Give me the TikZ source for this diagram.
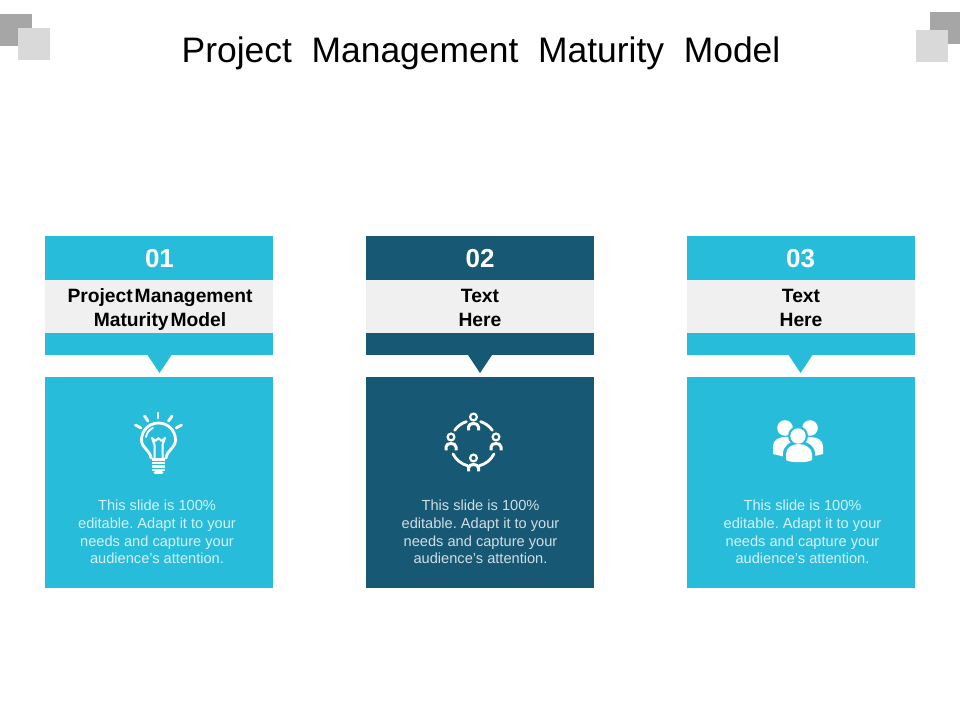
\documentclass[tikz,border=0pt]{standalone}
\usepackage{fontspec}
\setmainfont{Liberation Sans}
\usepackage{xcolor}
\definecolor{cardcyan}{HTML}{27BCDA}
\definecolor{carddark}{HTML}{175874}
\definecolor{labelgrey}{HTML}{F0F0F0}
\definecolor{cornerdark}{HTML}{A6A6A6}
\definecolor{cornerlight}{HTML}{D9D9D9}
\newcommand{\tightwords}{\spaceskip 0.1em\relax}
\tikzset{
    numtext/.style={inner sep=0pt,text=white,font=\fontsize{18.5}{22}\selectfont\bfseries},
    labelbox/.style={fill=labelgrey,minimum width=5.7cm,minimum height=1.325cm,inner sep=0pt},
    labeltext/.style={inner sep=0pt,align=center,font=\fontsize{13.7}{16.4}\selectfont\bfseries},
    bodytext/.style={text=white,text opacity=0.8,align=center,inner sep=0pt,font=\fontsize{10.4}{12.5}\selectfont\frenchspacing},
    iconline/.style={white,line width=0.07cm,line cap=round},
    person/.pic={
        \draw[white,line width=0.055cm] (0,0) circle (3.4);
        \draw[white,line width=0.075cm,line join=round] (-5,13.5) -- (-5,10) .. controls (-5,7.5) and (-2.5,6.5) .. (0,6.5) .. controls (2.5,6.5) and (5,7.5) .. (5,10) -- (5,13.5);
    },
}
\begin{document}
\begin{tikzpicture}[x=0.025cm,y=-0.025cm]
    \useasboundingbox (0,0) rectangle (960,720);
    % corners
    \fill[cornerdark] (0,14) rectangle (32,46);
    \fill[cornerlight] (18,28) rectangle (50,60);
    \fill[cornerdark] (930,12) rectangle (960,44);
    \fill[cornerlight] (916,30) rectangle (948,62);
    \node (title) at (481,53) {\fontsize{25.2}{30}\selectfont Project\ \ Management\ \ Maturity\ \ Model};
    % cards
    \foreach \n/\x/\mx/\tx/\col/\num in {a/159/159.5/157/cardcyan/01,b/480/480/480.5/carddark/02,c/801/800.5/802.5/cardcyan/03} {
        \fill[\col] (\x-114,236) rectangle (\x+114,280);
        \fill[\col] (\x-114,333) rectangle (\x+114,355);
        \fill[\col] (\mx-12,355) -- (\mx+12,355) -- (\mx,373) -- cycle;
        \node[numtext] (num\n) at (\mx,258.5) {\num};
        \node[fill=\col,minimum width=5.7cm,minimum height=5.275cm,inner sep=0pt] (card\n) at (\x,482.5) {};
        \node[bodytext] (body\n) at (\tx,532) {This slide is 100\%\\editable. Adapt it to your\\needs and capture your\\audience's attention.};
        \node[labelbox] (label\n) at (\x,306.5) {};
    }
    \node[labeltext] (texta) at (160,309.5) {\tightwords Project Management\\\tightwords Maturity Model};
    \node[labeltext] (textb) at (480,308) {Text\\Here};
    \node[labeltext] (textc) at (801,308) {Text\\Here};
    % bulb
    \draw[iconline,line join=round] (151,458) .. controls (150,450) and (141.5,448) .. (141.5,440) .. controls (141.5,430.5) and (149,423) .. (158.5,423) .. controls (168,423) and (175.5,430.5) .. (175.5,440) .. controls (175.5,448) and (167,450) .. (166,458);
    \draw[white,line width=0.045cm,line cap=round] (146,437) .. controls (147,432) and (149,430) .. (153,428);
    \draw[white,line width=0.05cm,line join=round] (154.5,459) -- (154.5,445) -- (152,438) -- (155.5,441) -- (158.5,438) -- (161.5,441) -- (165,438) -- (162.5,445) -- (162.5,459);
    \foreach \yy in {459.5,463,466.5,470} {
        \draw[white,line width=0.07cm] (152,\yy) -- (165,\yy);
    }
    \draw[iconline] (155,472.5) -- (162,472.5);
    \draw[iconline] (135.5,425) -- (141,428);
    \draw[iconline] (144.5,416) -- (148,421);
    \draw[iconline] (158,413) -- (158,418);
    \draw[iconline] (172,416) -- (168.5,421);
    \draw[iconline] (181.5,425) -- (176,428);
    % ring
    \foreach \aa/\bb in {27/75,105/153,-145/-108,-72/-35} {
        \draw[iconline] (473.5,443.5) ++(\aa:23) arc[start angle=\aa,end angle=\bb,radius=23];
    }
    \pic at (473.5,417) {person};
    \pic at (451,437) {person};
    \pic at (496,437) {person};
    \pic at (473.5,458) {person};
    % people
    \fill[white] (785,428) circle (7.8);
    \fill[white] (810,428) circle (7.8);
    \fill[white] (773,454) -- (773,446) .. controls (773,440) and (779,437) .. (785,437) -- (810,437) .. controls (817,437) and (823,440) .. (823,446) -- (823,454) -- (810,457) -- (785,457) -- cycle;
    \fill[cardcyan] (798,436) circle (10);
    \fill[cardcyan] (783,465) -- (783,454) .. controls (783,446) and (790,441) .. (798.5,441) .. controls (807,441) and (815,446) .. (815,454) -- (815,465) -- cycle;
    \fill[white] (798,436) circle (7.7);
    \fill[white] (786,460) -- (786,454) .. controls (786,448) and (792,444) .. (798.5,444) .. controls (805,444) and (812,448) .. (812,454) -- (812,460) .. controls (808,463) and (790,463) .. (786,460) -- cycle;
\end{tikzpicture}
\end{document}
